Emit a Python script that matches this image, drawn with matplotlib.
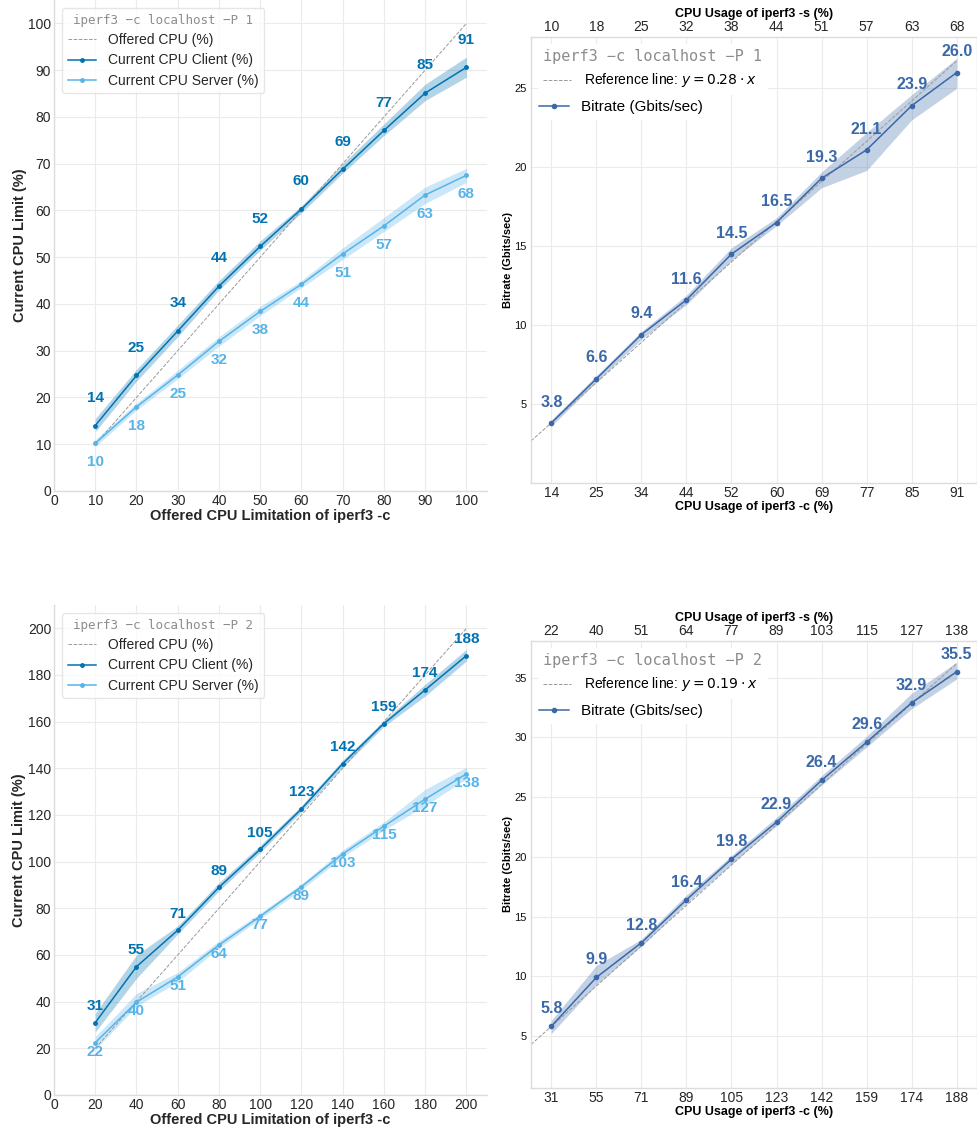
import numpy as np
import matplotlib
matplotlib.use("Agg")
import matplotlib.pyplot as plt
from matplotlib.lines import Line2D

plt.rcParams['font.family'] = ['Liberation Sans', 'DejaVu Sans']
plt.rcParams['mathtext.fontset'] = 'dejavusans'

# ---- data: -P 1 ----
offered_p1 = [10, 20, 30, 40, 50, 60, 70, 80, 90, 100]
client_p1 = [14.0, 24.7, 34.2, 43.8, 52.3, 60.3, 68.8, 77.1, 85.1, 90.6]
client_lo_p1 = [12.7, 23.5, 33.0, 43.0, 51.5, 59.5, 68.0, 76.0, 83.5, 88.5]
client_hi_p1 = [15.5, 26.0, 35.5, 45.0, 53.5, 61.0, 70.0, 78.5, 87.0, 92.8]
server_p1 = [10.2, 18.0, 24.8, 32.0, 38.4, 44.2, 50.7, 56.7, 63.3, 67.5]
server_lo_p1 = [9.5, 17.3, 24.0, 31.0, 37.5, 43.5, 49.5, 55.5, 61.5, 66.0]
server_hi_p1 = [11.0, 18.8, 25.8, 33.0, 39.5, 45.0, 52.0, 58.5, 65.0, 69.0]
bitrate_p1 = [3.8, 6.6, 9.4, 11.6, 14.5, 16.5, 19.3, 21.1, 23.9, 26.0]
bitrate_lo_p1 = [3.6, 6.4, 9.1, 11.3, 14.1, 16.3, 18.7, 19.8, 23.0, 25.0]
bitrate_hi_p1 = [4.0, 6.8, 9.6, 11.9, 14.9, 16.8, 19.7, 22.2, 24.6, 26.9]
slope_p1 = 0.28
ref_span_p1 = (13.6, 95.5)

# ---- data: -P 2 ----
offered_p2 = [20, 40, 60, 80, 100, 120, 140, 160, 180, 200]
client_p2 = [31.0, 55.0, 70.6, 89.0, 105.3, 122.6, 142.0, 159.2, 173.6, 188.3]
client_lo_p2 = [27.0, 50.0, 69.0, 87.5, 104.0, 121.5, 140.5, 158.0, 171.0, 186.0]
client_hi_p2 = [35.0, 60.0, 72.5, 91.0, 107.0, 124.0, 143.5, 160.5, 176.0, 191.0]
server_p2 = [22.4, 39.8, 50.6, 64.3, 76.6, 89.3, 103.3, 115.2, 126.8, 137.6]
server_lo_p2 = [19.5, 38.0, 48.5, 63.0, 75.5, 88.0, 102.0, 113.5, 124.0, 135.5]
server_hi_p2 = [25.0, 43.5, 52.5, 66.0, 78.0, 90.5, 105.0, 117.0, 131.0, 140.5]
bitrate_p2 = [5.8, 9.9, 12.8, 16.4, 19.8, 22.9, 26.4, 29.6, 32.9, 35.5]
bitrate_lo_p2 = [5.2, 9.3, 12.5, 16.1, 19.4, 22.6, 26.0, 29.2, 32.4, 34.9]
bitrate_hi_p2 = [6.3, 10.9, 13.1, 16.8, 20.1, 23.3, 26.8, 30.1, 33.7, 36.3]
slope_p2 = 0.19
ref_span_p2 = (30.5, 190.5)

CLIENT_COLOR = '#0173b2'
SERVER_COLOR = '#56b4e9'
BITRATE_COLOR = '#3a68a8'
GRID_COLOR = '#ebebeb'
SPINE_COLOR = '#dcdcdc'
MONO = 'DejaVu Sans Mono'


def style_axes(ax, spines=('left', 'bottom')):
    ax.set_facecolor('white')
    ax.grid(True, color=GRID_COLOR, linewidth=0.8)
    ax.set_axisbelow(True)
    for name, sp in ax.spines.items():
        sp.set_visible(name in spines)
        sp.set_color(SPINE_COLOR)
        sp.set_linewidth(1.0)
    ax.tick_params(length=0, colors='#262626')


def draw_cpu_panel(ax, offered, client, c_lo, c_hi, server, s_lo, s_hi,
                   title, step, c_off, s_off):
    style_axes(ax)
    top = max(offered) * 1.05
    ax.plot(offered, offered, ls='--', color='#999999', lw=0.7, label='Offered CPU (%)')
    ax.fill_between(offered, c_lo, c_hi, color=CLIENT_COLOR, alpha=0.3, lw=0)
    ax.plot(offered, client, color=CLIENT_COLOR, lw=1.1, marker='o', ms=2.5,
            label='Current CPU Client (%)')
    ax.fill_between(offered, s_lo, s_hi, color=SERVER_COLOR, alpha=0.3, lw=0)
    ax.plot(offered, server, color=SERVER_COLOR, lw=1.1, marker='o', ms=2.5,
            label='Current CPU Server (%)')
    for x, y in zip(offered, client):
        ax.annotate(f"{y:.0f}", (x, y), xytext=(0, c_off), textcoords='offset points',
                    ha='center', va='center', fontsize=11, fontweight='bold',
                    color=CLIENT_COLOR)
    for x, y in zip(offered, server):
        ax.annotate(f"{y:.0f}", (x, y), xytext=(0, s_off), textcoords='offset points',
                    ha='center', va='center', fontsize=11, fontweight='bold',
                    color=SERVER_COLOR)
    ax.set_xlim(0, top)
    ax.set_ylim(0, top)
    ticks = np.arange(0, max(offered) + 1, step)
    ax.set_xticks(ticks)
    ax.set_yticks(ticks)
    ax.tick_params(labelsize=10, pad=2)
    ax.set_xlabel('Offered CPU Limitation of iperf3 -c', fontsize=10.5,
                  fontweight='bold', color='#262626', labelpad=1)
    ax.set_ylabel('Current CPU Limit (%)', fontsize=10.5, fontweight='bold',
                  color='#262626', labelpad=1)
    leg = ax.legend(loc='upper left', fontsize=10, title=title, frameon=True,
                    borderaxespad=0.6, handlelength=2.0, handletextpad=0.9,
                    labelspacing=0.45)
    leg.get_title().set_fontfamily(MONO)
    leg.get_title().set_fontsize(9)
    leg.get_title().set_color('#8c8c8c')
    leg.get_frame().set_edgecolor('#e0e0e0')
    for t in leg.get_texts():
        t.set_color('#262626')


def draw_bitrate_panel(ax, client, server, bitrate, lo, hi, slope, ref_span,
                       title, ylim, ystep, off, leg2_y):
    style_axes(ax, spines=('left', 'bottom', 'top', 'right'))
    n = len(bitrate)
    idx = np.arange(n)
    xl = (-0.45, n - 1 + 0.45)
    # reference line y = slope * x, with x running evenly over the span
    ref_idx = np.array([xl[0], n - 1])
    dx = (ref_span[1] - ref_span[0]) / (n - 1)
    ref_x = ref_span[0] + ref_idx * dx
    ax.plot(ref_idx, slope * ref_x, ls='--', color='#999999', lw=0.7)
    ax.fill_between(idx, lo, hi, color=BITRATE_COLOR, alpha=0.3, lw=0)
    ax.plot(idx, bitrate, color=BITRATE_COLOR, lw=1.1, marker='o', ms=3)
    for x, y in zip(idx, bitrate):
        ax.annotate(f"{y:.1f}", (x, y), xytext=(0, off), textcoords='offset points',
                    ha='center', va='center', fontsize=11.5, fontweight='bold',
                    color=BITRATE_COLOR)
    ax.set_xlim(*xl)
    ax.set_ylim(*ylim)
    ax.set_xticks(idx)
    ax.set_xticklabels([f"{c:.0f}" for c in client])
    ax.set_yticks(np.arange(ystep, ylim[1], ystep))
    ax.tick_params(axis='x', labelsize=10, pad=2)
    ax.tick_params(axis='y', labelsize=8, pad=3, colors='#111111')
    ax.set_xlabel('CPU Usage of iperf3 -c (%)', fontsize=9, fontweight='bold',
                  labelpad=1)
    ax.set_ylabel('Bitrate (Gbits/sec)', fontsize=8, fontweight='bold', labelpad=1)

    top = ax.twiny()
    top.set_xlim(*xl)
    top.set_xticks(idx)
    top.set_xticklabels([f"{s:.0f}" for s in server])
    top.tick_params(length=0, labelsize=10, pad=2, colors='#262626')
    for sp in top.spines.values():
        sp.set_visible(False)
    top.grid(False)
    top.set_xlabel('CPU Usage of iperf3 -s (%)', fontsize=9, fontweight='bold',
                   labelpad=2)

    ref_h = Line2D([], [], ls='--', color='#999999', lw=0.7)
    leg1 = ax.legend([ref_h], [f'Reference line: $y = {slope:.2f} \\cdot x$'],
                     loc='upper left', title=title, fontsize=10, frameon=True,
                     borderaxespad=0.5, handlelength=2.0, handletextpad=0.9,
                     alignment='left')
    leg1.get_title().set_fontfamily(MONO)
    leg1.get_title().set_fontsize(11)
    leg1.get_title().set_color('#8c8c8c')
    leg1.get_frame().set_edgecolor('none')
    leg1.get_frame().set_alpha(1)
    ax.add_artist(leg1)
    bit_h = Line2D([], [], color=BITRATE_COLOR, lw=1.1, marker='o', ms=3)
    leg2 = ax.legend([bit_h], ['Bitrate (Gbits/sec)'], loc='upper left',
                     bbox_to_anchor=(0.0, leg2_y), fontsize=11, frameon=True,
                     borderaxespad=0.1, handlelength=2.0, handletextpad=0.8)
    leg2.get_frame().set_edgecolor('none')
    leg2.get_frame().set_alpha(1)


fig = plt.figure(figsize=(9.78, 11.29), dpi=100)
W, H = 978.0, 1129.0

ax1 = fig.add_axes([54 / W, (H - 491) / H, 433 / W, 491 / H])
ax2 = fig.add_axes([531 / W, (H - 483) / H, 446 / W, 446 / H])
ax3 = fig.add_axes([54 / W, (H - 1095) / H, 433 / W, 490 / H])
ax4 = fig.add_axes([531 / W, (H - 1088) / H, 446 / W, 447 / H])

draw_cpu_panel(ax1, offered_p1, client_p1, client_lo_p1, client_hi_p1,
               server_p1, server_lo_p1, server_hi_p1,
               'iperf3 \u2212c localhost \u2212P 1', 10, 20, -13.5)
draw_bitrate_panel(ax2, client_p1, server_p1, bitrate_p1, bitrate_lo_p1,
                   bitrate_hi_p1, slope_p1, ref_span_p1,
                   'iperf3 \u2212c localhost \u2212P 1', (0, 28.25), 5, 15, 0.876)
draw_cpu_panel(ax3, offered_p2, client_p2, client_lo_p2, client_hi_p2,
               server_p2, server_lo_p2, server_hi_p2,
               'iperf3 \u2212c localhost \u2212P 2', 20, 12, -6.5)
draw_bitrate_panel(ax4, client_p2, server_p2, bitrate_p2, bitrate_lo_p2,
                   bitrate_hi_p2, slope_p2, ref_span_p2,
                   'iperf3 \u2212c localhost \u2212P 2', (0.64, 38.07), 5, 12.6, 0.876)

fig.savefig('out.png', dpi=100)
